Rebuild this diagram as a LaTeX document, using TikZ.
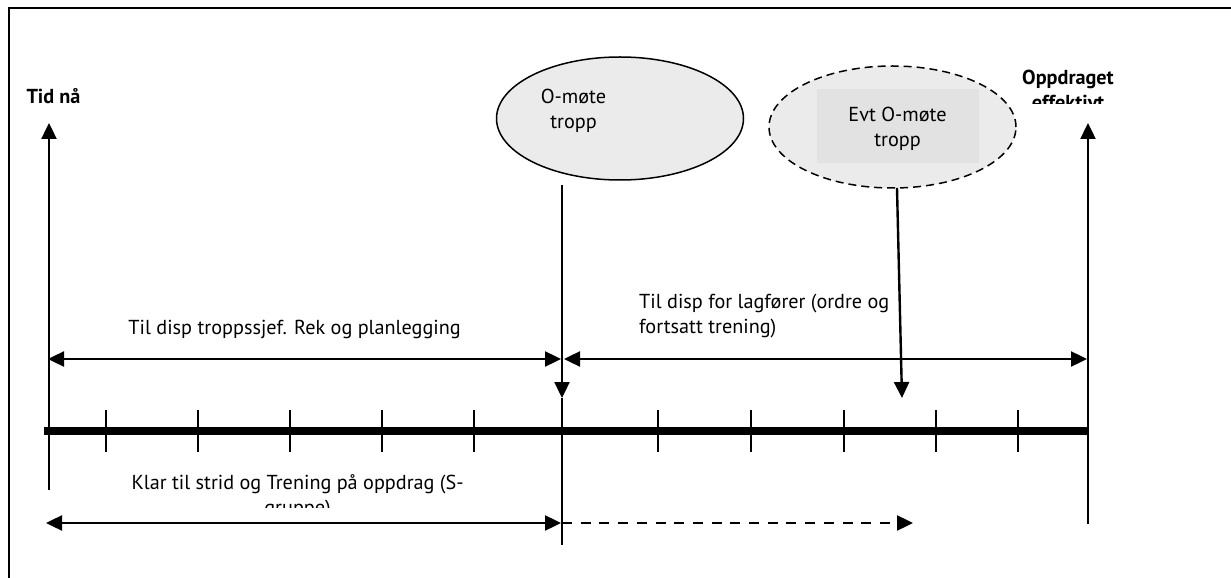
\documentclass[tikz,border=0pt]{standalone}
\usepackage{fontspec}
\setmainfont{PT Sans}
\usetikzlibrary{arrows.meta,shapes.geometric}
\definecolor{ellgray}{HTML}{EBEBEB}
\definecolor{rectgray}{HTML}{E2E2E2}
\begin{document}
\begin{tikzpicture}[x=1bp,y=-1bp,
  lbl/.style={font=\fontsize{20.3}{25}\selectfont, inner sep=0},
  blbl/.style={font=\fontsize{20.3}{25}\selectfont\bfseries, inner sep=0},
  arr/.style={line width=2.4bp, -{Triangle[length=16bp,width=15bp]}},
  darr/.style={line width=2.4bp, {Triangle[length=16bp,width=15bp]}-{Triangle[length=16bp,width=15bp]}},
  dasharr/.style={line width=2.4bp, dash pattern=on 10bp off 8.7bp, -{Triangle[length=16bp,width=15bp]}},
  thinline/.style={line width=1.6bp},
  tick/.style={line width=1.6bp},
  axisline/.style={line width=8bp},
  frameline/.style={line width=2bp},
  ell/.style={ellipse, draw, line width=1.5bp, fill=ellgray, inner sep=0},
]
\useasboundingbox (0,0) rectangle (1231,578);
% frame (top and left edges)
\coordinate (fTL) at (9,8.5);
\coordinate (fTR) at (1231,8.5);
\coordinate (fBL) at (9,578);
\draw[frameline] (fTR) -- (fTL) -- (fBL);

% axis
\coordinate (ax0) at (44,431);
\coordinate (ax1) at (1088,431);
\draw[axisline] (ax0) -- (ax1);
\foreach \x [count=\i] in {106,198,290,382,474,658,751,844,936,1018}{
  \coordinate (tA\i) at (\x,410);
  \coordinate (tB\i) at (\x,452);
  \draw[tick] (tA\i) -- (tB\i);
}

% left: Tid naa
\node[blbl, anchor=base] (tid) at (53.5,104) {Tid nå};
\coordinate (tidB) at (49,490);
\coordinate (tidT) at (49,123);
\draw[arr] (tidB) -- (tidT);

% right: Oppdraget effektivt
\node[blbl, anchor=base] (opp1) at (1068,85) {Oppdraget};
\begin{scope}
  \clip (1000,60) rectangle (1140,103.5);
  \node[blbl, anchor=base] (opp2) at (1068,110) {effektivt};
\end{scope}
\coordinate (effB) at (1088,524);
\coordinate (effT) at (1088,123);
\draw[arr] (effB) -- (effT);

% ellipse 1
\node[ell, minimum width=247bp, minimum height=123bp] (e1) at (620,118.5) {};
\node[lbl, anchor=base] (e1a) at (573.5,104) {O-møte};
\node[lbl, anchor=base] (e1b) at (573.5,129) {tropp};
\coordinate (m0) at (562,185);
\coordinate (m1) at (562,398);
\coordinate (m2) at (562,545);
\draw[arr] (m0) -- (m1);
\draw[thinline] (m1) -- (m2);

% ellipse 2 (dashed)
\node[ell, dash pattern=on 8bp off 5bp, minimum width=247bp, minimum height=122bp] (e2) at (892.5,127) {};
\node[fill=rectgray, inner sep=0, minimum width=162bp, minimum height=74bp] (r2) at (898,126) {};
\node[lbl, anchor=base] (e2a) at (897.5,122) {Evt O-møte};
\node[lbl, anchor=base] (e2b) at (897.5,147) {tropp};
\coordinate (n0) at (897,188);
\coordinate (n1) at (902,398);
\draw[arr] (n0) -- (n1);

% upper spans
\node[lbl, anchor=base] (t1) at (294.6,335) {Til disp troppssjef. Rek og planlegging};
\node[lbl, anchor=base west] (t2a) at (639,309) {Til disp for lagfører (ordre og};
\node[lbl, anchor=base west] (t2b) at (639,334) {fortsatt trening)};
\coordinate (s1a) at (48,359);
\coordinate (s1b) at (561,359);
\coordinate (s2a) at (564,359);
\coordinate (s2b) at (1087,359);
\draw[darr] (s1a) -- (s1b);
\draw[darr] (s2a) -- (s2b);

% lower span
\node[lbl, anchor=base] (t3a) at (297.6,489) {Klar til strid og Trening på oppdrag (S-};
\begin{scope}
  \clip (100,490) rectangle (500,507);
  \node[lbl, anchor=base] (t3b) at (297.6,514) {gruppe)};
\end{scope}
\coordinate (s3a) at (46,523);
\coordinate (s3b) at (561,523);
\coordinate (s4a) at (562,523);
\coordinate (s4b) at (913,523);
\draw[darr] (s3a) -- (s3b);
\draw[dasharr] (s4a) -- (s4b);
\end{tikzpicture}
\end{document}
